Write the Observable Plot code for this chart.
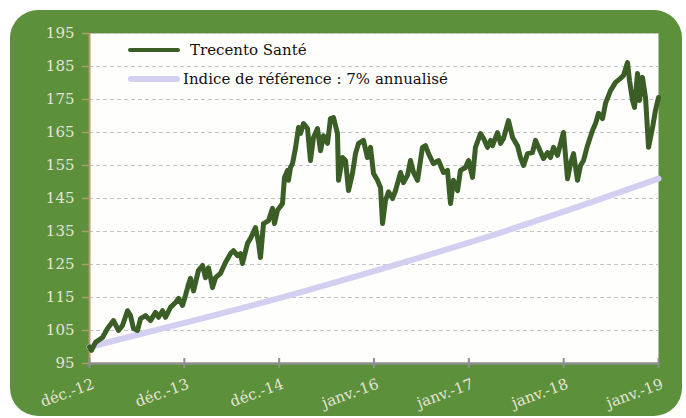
<!DOCTYPE html>
<html>
<head>
<meta charset="utf-8">
<script src="https://cdn.jsdelivr.net/npm/d3@7"></script>
<script src="https://cdn.jsdelivr.net/npm/@observablehq/plot@0.6"></script>
<style>
  html, body { margin: 0; padding: 0; background: #ffffff; }
  #wrap { position: relative; width: 686px; height: 418px; overflow: hidden; font-family: "DejaVu Serif", serif; }
  #bg { position: absolute; left: 10px; top: 10px; width: 672px; height: 406px; background: #5c903b; border-radius: 28px; }
  #chart { position: absolute; left: 0; top: 0; }
  .leg { position: absolute; left: 128px; display: flex; align-items: center; font-size: 15px; color: #111; }
  .leg span.sw { display: inline-block; width: 52px; border-radius: 3px; }
</style>
</head>
<body>
<div id="wrap">
  <div id="bg"></div>
  <div id="chart"></div>
  <div class="leg" style="top:41px;"><span class="sw" style="height:4px;background:#3b5e27;margin-right:10px;"></span>Trecento Santé</div>
  <div class="leg" style="top:70px;"><span class="sw" style="height:6px;background:#d3cff0;margin-right:3px;"></span>Indice de référence : 7% annualisé</div>
</div>
<script>
// Tick labels (equally spaced categories on the x axis)
const xTickLabels = ["déc.-12", "déc.-13", "déc.-14", "janv.-16", "janv.-17", "janv.-18", "janv.-19"];
const yTicks = [95, 105, 115, 125, 135, 145, 155, 165, 175, 185, 195];

// Trecento Santé: position (in tick intervals since déc.-12) and value
const fondsT = [0,0.021,0.063,0.137,0.190,0.253,0.306,0.348,0.401,0.432,0.464,0.506,0.538,0.591,0.643,0.696,0.728,0.770,0.801,0.854,0.907,0.939,0.981,1.012,1.044,1.065,1.097,1.149,1.192,1.223,1.255,1.297,1.329,1.381,1.434,1.487,1.518,1.561,1.592,1.613,1.666,1.698,1.750,1.782,1.803,1.835,1.888,1.930,1.951,1.982,2.035,2.056,2.088,2.098,2.120,2.141,2.172,2.204,2.225,2.257,2.299,2.330,2.362,2.404,2.436,2.467,2.510,2.541,2.573,2.615,2.626,2.668,2.700,2.731,2.773,2.805,2.837,2.889,2.931,2.963,2.995,3.037,3.069,3.090,3.121,3.153,3.195,3.227,3.280,3.311,3.353,3.385,3.417,3.459,3.511,3.543,3.575,3.627,3.680,3.733,3.775,3.807,3.838,3.881,3.912,3.965,3.997,4.039,4.070,4.123,4.155,4.197,4.229,4.250,4.302,4.334,4.366,4.418,4.461,4.513,4.545,4.577,4.619,4.671,4.703,4.735,4.787,4.830,4.861,4.893,4.935,4.967,4.998,5.041,5.072,5.104,5.146,5.178,5.209,5.251,5.304,5.336,5.367,5.410,5.441,5.494,5.547,5.599,5.631,5.673,5.694,5.726,5.747,5.779,5.800,5.831,5.863,5.895,5.937,5.968,6.000];
const fondsV = [100,99.0,101.4,102.9,105.6,108.0,105,106.5,111,109.5,105.6,105,108.6,109.5,108,110.5,109,111,109,112,113.5,114.7,112.6,115.6,119,120.8,117,123.2,124.7,121,124,118,121,122.3,125.6,128.3,129.2,127.7,128.3,125.3,131.4,132.9,136.2,131.7,127.1,137.4,138.3,142,137.4,141.4,143.5,151.4,153.5,150.5,154.4,155.6,160.2,166.5,164.7,167.7,166.2,156.5,163.5,166.2,159.5,164,161.7,169.2,169.5,164.7,150.5,157.4,156.5,147.4,152.6,158.6,161.7,162.6,157.4,160.5,152.6,150.5,148.3,137.4,144.4,147,145,147.4,152.9,149.8,152,156.5,152.9,150.5,160.5,161,158.6,155.6,156.5,152.9,153.5,143.5,150.5,147.4,153.5,154.4,156.5,151.4,160.5,164.7,163.2,160.5,162.6,161,165,161.7,163.2,168.6,163.5,161,157.4,155,158.6,158.9,162.6,160.5,157.1,158.9,157.4,160.5,158.1,161.7,165,151,155.6,158.6,150.5,155,156.5,161,165.6,167.7,170.8,169.2,173.8,177.7,180.2,181.4,182.3,186.2,180.8,174.7,172.6,182.9,174.7,181.7,175.6,160.5,166.5,171.7,175.6];

// Indice de référence (7% annualisé), read at each tick
const indiceT = [0, 1, 2, 3, 4, 5, 6];
const indiceV = [100, 107.3, 114.8, 123, 131.6, 141, 151];

const fonds = fondsT.map((t, i) => ({t, v: fondsV[i]}));
const indice = indiceT.map((t, i) => ({t, v: indiceV[i]}));

const labelColor = "#e6e4d4";
const chart = Plot.plot({
  width: 686,
  height: 418,
  marginLeft: 89,
  marginRight: 28,
  marginTop: 33,
  marginBottom: 55,
  style: {background: "transparent", fontFamily: "DejaVu Serif, serif", fontSize: "15px"},
  x: {domain: [0, 6]},
  y: {domain: [95, 195]},
  marks: [
    Plot.frame({fill: "#fefefc", stroke: null}),
    Plot.gridY(yTicks.slice(1), {stroke: "#c4c4c4", strokeOpacity: 1, strokeDasharray: "4,3"}),
    Plot.ruleY([95], {stroke: "#8f8f8f", strokeWidth: 2.5}),
    Plot.ruleX([0], {stroke: "#b09a6e", strokeWidth: 2}),
    Plot.axisY(yTicks, {tickSize: 7, stroke: "#b09a6e", strokeWidth: 1.5, color: labelColor, fill: labelColor, tickPadding: 8, label: null, fontSize: 15}),
    Plot.ruleX(indiceT, {x: d => d, y1: 93.5, y2: 96.5, stroke: "#8f8f8f", strokeWidth: 2}),
    Plot.axisX(indiceT, {tickSize: 0, tickFormat: i => xTickLabels[i], tickRotate: -20, fill: labelColor, color: labelColor, tickPadding: 20, label: null, fontSize: 15, dx: 4}),
    Plot.line(indice, {x: "t", y: "v", stroke: "#d3cff0", strokeWidth: 6, curve: "monotone-x"}),
    Plot.line(fonds, {x: "t", y: "v", stroke: "#3b5e27", strokeWidth: 5, strokeLinejoin: "round"})
  ]
});
document.getElementById("chart").appendChild(chart);
</script>
</body>
</html>
